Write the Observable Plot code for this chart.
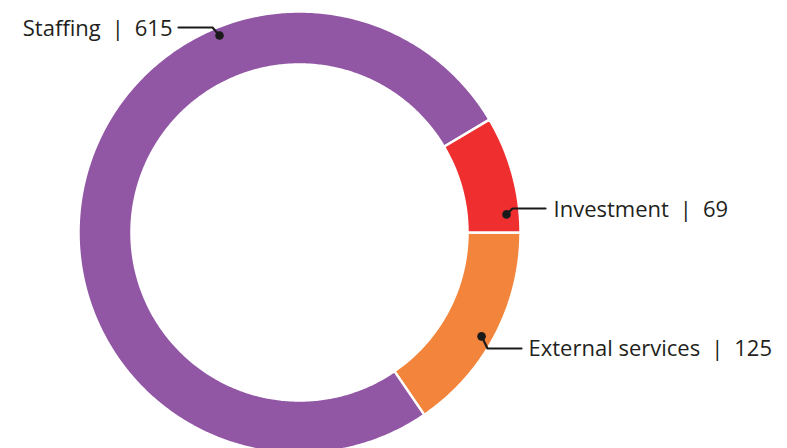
<!DOCTYPE html>
<html>
<head>
<meta charset="utf-8">
<script src="https://cdn.jsdelivr.net/npm/d3@7"></script>
<script src="https://cdn.jsdelivr.net/npm/@observablehq/plot@0.6"></script>
<style>
  html, body { margin: 0; padding: 0; background: #fff; }
  #chart svg { display: block; }
</style>
</head>
<body>
<div id="chart"></div>
<script>
// Data
const categories = ["External services", "Staffing", "Investment"];
const values = [125, 615, 69];
const colors = ["#f3843c", "#9157a5", "#ee2e2f"];
// Label placement (data units relative to centre; angle in degrees clockwise from east)
const dotAngles = [29.7, 247.9, 355];
const dotRadius = [209.6, 212.6, 207.8];
const elbows = [[188, 116], [-87, -205], [213, -24]];
const lineEnds = [[222, 116], [-121, -205], [246, -24]];
const textPos = [[229, 116], [-127, -204], [254, -23]];
const textAnchors = ["start", "end", "start"];

const outerR = 221, innerR = 168;
const total = d3.sum(values);

// Build slice polygons
const slices = [];
let a = 0;
categories.forEach((c, i) => {
  const a0 = a, a1 = a + values[i] / total * 2 * Math.PI;
  a = a1;
  const n = Math.max(8, Math.ceil((a1 - a0) / 0.01));
  const pts = [];
  for (let k = 0; k <= n; k++) {
    const t = a0 + (a1 - a0) * k / n;
    pts.push({x: outerR * Math.cos(t), y: outerR * Math.sin(t)});
  }
  for (let k = n; k >= 0; k--) {
    const t = a0 + (a1 - a0) * k / n;
    pts.push({x: innerR * Math.cos(t), y: innerR * Math.sin(t)});
  }
  pts.push(pts[0]);
  pts.forEach(p => slices.push({...p, cat: c}));
});

const leaders = [];
const dots = [];
const texts = [];
const sp = "\u2002";
categories.forEach((c, i) => {
  const t = dotAngles[i] * Math.PI / 180;
  const dx = dotRadius[i] * Math.cos(t), dy = dotRadius[i] * Math.sin(t);
  dots.push({x: dx, y: dy});
  leaders.push({x: dx, y: dy, cat: c});
  leaders.push({x: elbows[i][0], y: elbows[i][1], cat: c});
  leaders.push({x: lineEnds[i][0], y: lineEnds[i][1], cat: c});
  texts.push({x: textPos[i][0], y: textPos[i][1], label: `${c}${sp}|${sp}${values[i]}`, anchor: textAnchors[i]});
});

const chart = Plot.plot({
  width: 787,
  height: 448,
  margin: 0,
  x: {domain: [-299, 488], range: [0, 787], axis: null},
  y: {domain: [-232, 216], range: [0, 448], axis: null},
  color: {domain: categories, range: colors},
  style: {fontFamily: "'Open Sans', 'Noto Sans', sans-serif", background: "#fff"},
  marks: [
    Plot.line(slices, {x: "x", y: "y", z: "cat", fill: "cat", stroke: "#fff", strokeWidth: 2.5, curve: "linear"}),
    Plot.line(leaders, {x: "x", y: "y", z: "cat", stroke: "#1a1a1a", strokeWidth: 2.2, curve: "linear"}),
    Plot.dot(dots, {x: "x", y: "y", r: 4.3, fill: "#1a1a1a"}),
    Plot.text(texts.filter(d => d.anchor === "start"), {x: "x", y: "y", text: "label", textAnchor: "start", fontSize: 22, fill: "#231f20"}),
    Plot.text(texts.filter(d => d.anchor === "end"), {x: "x", y: "y", text: "label", textAnchor: "end", fontSize: 22, fill: "#231f20"})
  ]
});
document.getElementById("chart").appendChild(chart);
</script>
</body>
</html>
